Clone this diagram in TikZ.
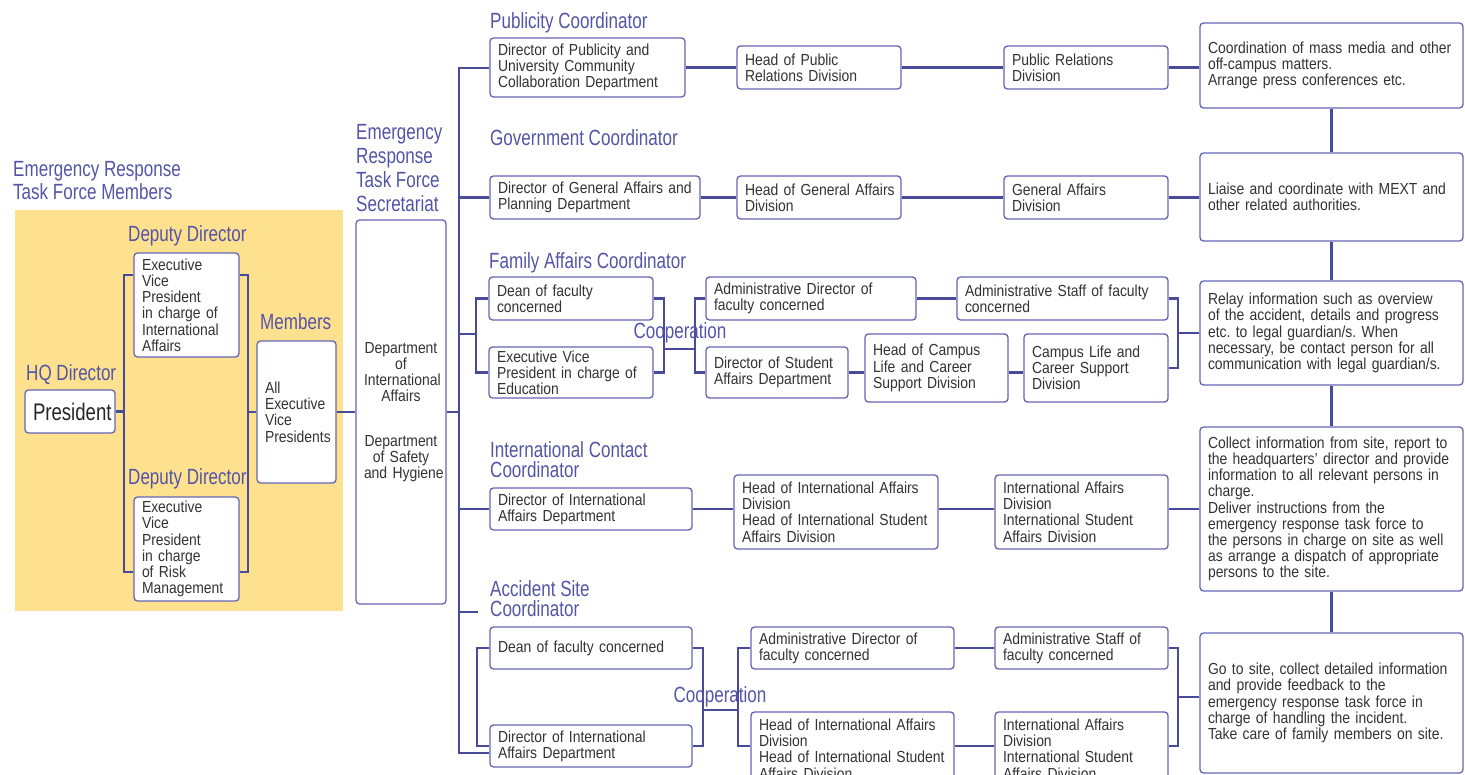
\documentclass[tikz,border=0pt]{standalone}
\usepackage{fontspec}
\newfontfamily\bodyfam{Liberation Sans}[FakeStretch=0.87]
\newfontfamily\ttlfam{Liberation Sans}[FakeStretch=0.775]
\newcommand\myBody{\bodyfam\fontsize{16}{16.2}\selectfont\frenchspacing\hyphenpenalty=10000 }
\newcommand\myTtl{\ttlfam\fontsize{22}{23.5}\selectfont}
\definecolor{linec}{HTML}{4A4A9A}
\definecolor{boxc}{HTML}{6464B4}
\definecolor{ttlc}{HTML}{5454A8}
\definecolor{txtc}{HTML}{333333}
\definecolor{yelc}{HTML}{FDE18E}
\newcommand\bx[7][]{%
  \pgfmathsetmacro\bxw{#5-#3}%
  \pgfmathsetmacro\bxh{#6-#4}%
  \pgfmathsetmacro\bxt{#5-#3-16}%
  \node[box, minimum width=\bxw pt, minimum height=\bxh pt, text width=\bxt pt, #1] (#2) at ({(#3+#5)/2},{(#4+#6)/2}) {#7};}
\begin{document}
\begin{tikzpicture}[x=1pt,y=-1pt,
  conn/.style={draw=linec, line width=2.3pt},
  box/.style={draw=boxc, line width=1.3pt, rounded corners=3.5pt, fill=white, text=txtc, align=left, inner xsep=8pt, inner ysep=1pt, font=\myBody},
  ttl/.style={text=ttlc, font=\myTtl, inner sep=0pt, anchor=base west, align=left}]
\useasboundingbox (0,0) rectangle (1465,775);
\clip (0,0) rectangle (1465,775);
\fill[yelc] (15,210) rectangle (343,611);

% left group
\bx[font={\ttlfam\fontsize{24}{26}\selectfont}, align=center, text=black!85]{pres}{25}{390}{115}{433}{President}
\bx{evpi}{134}{253}{239}{357}{Executive\\Vice\\President\\in charge of\\International\\Affairs}
\bx{evpr}{134}{497}{239}{601}{Executive\\Vice\\President\\in charge\\of Risk\\Management}
\bx{mem}{257}{341}{336}{483}{All\\Executive\\Vice\\Presidents}
\bx[align=center]{sec}{356}{220}{446}{604}{Department\\of\\International\\Affairs\\[28pt]Department\\of~Safety\\and~Hygiene}

% row 1
\bx{a1}{490}{38}{685}{97}{Director of Publicity and\\University Community\\Collaboration Department}
\bx{b1}{737}{46}{901}{89}{Head of Public\\Relations Division}
\bx{c1}{1004}{46}{1168}{89}{Public Relations\\Division}
\bx{d1}{1200}{23}{1463}{108}{Coordination of mass media and other\\off-campus matters.\\Arrange press conferences etc.}
% row 2
\bx{a2}{490}{176}{700}{219}{Director of General Affairs and\\Planning Department}
\bx{b2}{737}{176}{901}{219}{Head~of~General~Affairs\\Division}
\bx{c2}{1004}{176}{1168}{219}{General Affairs\\Division}
\bx{d2}{1200}{153}{1463}{241}{Liaise and coordinate with MEXT and\\other related authorities.}
% row 3
\bx{a3a}{489}{277}{653}{320}{Dean of faculty\\concerned}
\bx{a3b}{489}{347}{653}{398}{Executive Vice\\President in charge of\\Education}
\bx{b3a}{706}{277}{916}{320}{Administrative Director of\\faculty concerned}
\bx{c3a}{957}{277}{1168}{320}{Administrative Staff of faculty\\concerned}
\bx{b3b}{706}{347}{848}{398}{Director of Student\\Affairs Department}
\bx{b3c}{865}{334}{1008}{402}{Head of Campus\\Life and Career\\Support Division}
\bx{c3b}{1024}{334}{1168}{402}{Campus Life and\\Career Support\\Division}
\bx{d3}{1200}{281}{1463}{385}{Relay information such as overview\\of the accident, details and progress\\etc. to legal guardian/s. When\\necessary, be contact person for all\\communication with legal guardian/s.}
% row 4
\bx{a4}{490}{488}{692}{530}{Director of International\\Affairs Department}
\bx{b4}{734}{475}{938}{549}{Head of International Affairs\\Division\\Head~of~International~Student\\Affairs Division}
\bx{c4}{995}{475}{1168}{549}{International Affairs\\Division\\International Student\\Affairs Division}
\bx{d4}{1200}{427}{1463}{591}{Collect information from site, report to\\the headquarters’ director and provide\\information to all relevant persons in\\charge.\\Deliver instructions from the\\emergency response task force to\\the persons in charge on site as well\\as arrange a dispatch of appropriate\\persons to the site.}
% row 5
\bx{a5a}{490}{627}{692}{669}{Dean of faculty concerned}
\bx{a5b}{490}{725}{692}{767}{Director of International\\Affairs Department}
\bx{b5a}{751}{627}{954}{669}{Administrative Director of\\faculty concerned}
\bx{b5b}{751}{712}{954}{786}{Head of International Affairs\\Division\\Head~of~International~Student\\Affairs Division}
\bx{c5a}{995}{627}{1168}{669}{Administrative Staff of\\faculty concerned}
\bx{c5b}{995}{712}{1168}{786}{International Affairs\\Division\\International Student\\Affairs Division}
\bx{d5}{1200}{633}{1463}{773}{Go to site, collect detailed information\\and provide feedback to the\\emergency response task force in\\charge of handling the incident.\\Take care of family members on site.}

% connectors left
\coordinate (jl1) at (124,275); \coordinate (jl2) at (124,572);
\coordinate (jr1) at (248,275); \coordinate (jr2) at (248,572);
\draw[conn] (evpi.west|-jl1) -- (jl1) -- (jl2) -- (evpr.west|-jl2);
\draw[conn] (pres.east) -- (pres.east-|jl1);
\draw[conn] (evpi.east|-jr1) -- (jr1) -- (jr2) -- (evpr.east|-jr2);
\draw[conn] (mem.west) -- (mem.west-|jr1);
\draw[conn] (mem.east) -- (sec.west);
% main bus
\coordinate (m1) at (459,68); \coordinate (m2) at (459,753);
\draw[conn] (a1.west|-m1) -- (m1) -- (m2) -- (a5b.west|-m2);
\draw[conn] (sec.east) -- (sec.east-|m1);
% row 1
\draw[conn] (a1.east) -- (b1.west|-a1.east) (b1.east|-a1.east) -- (c1.west|-a1.east) (c1.east|-a1.east) -- (d1.west|-a1.east);
% row 2
\draw[conn] (m1|-a2.west) -- (a2.west) (a2.east) -- (b2.west|-a2.east) (b2.east|-a2.east) -- (c2.west|-a2.east) (c2.east|-a2.east) -- (d2.west|-a2.east);
% row 3
\coordinate (l3) at (476,334);
\draw[conn] (m1|-l3) -- (l3);
\draw[conn] (a3a.west) -- (a3a.west-|l3) -- (a3b.west-|l3) -- (a3b.west);
\coordinate (r3a) at (664,349); \coordinate (r3b) at (695,349);
\draw[conn] (a3a.east) -- (a3a.east-|r3a) -- (a3b.east-|r3a) -- (a3b.east);
\draw[conn] (r3a) -- (r3b);
\draw[conn] (b3a.west) -- (b3a.west-|r3b) -- (b3b.west-|r3b) -- (b3b.west);
\draw[conn] (b3a.east) -- (c3a.west|-b3a.east);
\draw[conn] (b3b.east) -- (b3c.west|-b3b.east) (b3c.east|-b3b.east) -- (c3b.west|-b3b.east);
\coordinate (q3) at (1178,333);
\draw[conn] (c3a.east) -- (c3a.east-|q3) -- (c3b.east-|q3) -- (c3b.east);
\draw[conn] (q3) -- (d3.west|-q3);
% row 4
\draw[conn] (m1|-a4.west) -- (a4.west) (a4.east) -- (b4.west|-a4.east) (b4.east|-a4.east) -- (c4.west|-a4.east) (c4.east|-a4.east) -- (d4.west|-a4.east);
% row 5
\coordinate (s5) at (478,612);
\draw[conn] (m1|-s5) -- (s5);
\coordinate (l5) at (477,700);
\draw[conn] (a5a.west) -- (a5a.west-|l5) -- (a5b.west-|l5) -- (a5b.west);
\coordinate (r5a) at (703,710); \coordinate (r5b) at (738,710); \coordinate (r5c) at (738,746);
\draw[conn] (a5a.east) -- (a5a.east-|r5a) -- (a5b.east-|r5a) -- (a5b.east);
\draw[conn] (r5a) -- (r5b);
\draw[conn] (b5a.west) -- (b5a.west-|r5b) -- (r5c) -- (b5b.west|-r5c);
\draw[conn] (b5a.east) -- (c5a.west|-b5a.east);
\draw[conn] (b5b.east|-r5c) -- (c5b.west|-r5c);
\coordinate (q5) at (1178,697); \coordinate (q5b) at (1178,746);
\draw[conn] (c5a.east) -- (c5a.east-|q5) -- (q5b) -- (c5b.east|-q5b);
\draw[conn] (q5) -- (d5.west|-q5);
% right column links
\draw[conn] (d1.south) -- (d2.north);
\draw[conn] (d2.south) -- (d3.north);
\draw[conn] (d3.south) -- (d4.north);
\draw[conn] (d4.south) -- (d5.north);

% titles
\node[ttl, font={\ttlfam\fontsize{22}{23}\selectfont}] (tErm) at (13,200) {Emergency Response\\Task Force Members};
\node[ttl] (tDep1) at (128,242) {Deputy Director};
\node[ttl] (tHQ) at (26,381) {HQ Director};
\node[ttl] (tDep2) at (128,485) {Deputy Director};
\node[ttl] (tMemb) at (260,330) {Members};
\node[ttl, font={\ttlfam\fontsize{22}{24}\selectfont}] (tSec) at (356,212) {Emergency\\Response\\Task Force\\Secretariat};
\node[ttl] (tPub) at (490,29) {Publicity Coordinator};
\node[ttl] (tGov) at (490,146) {Government Coordinator};
\node[ttl] (tFam) at (489,269) {Family Affairs Coordinator};
\node[ttl, font={\ttlfam\fontsize{22}{20}\selectfont}] (tInt) at (490,477) {International Contact\\Coordinator};
\node[ttl, font={\ttlfam\fontsize{22}{20}\selectfont}] (tAcc) at (490,616) {Accident Site\\Coordinator};
\node[ttl, anchor=base] (coop1) at (680,339) {Cooperation};
\node[ttl, anchor=base] (coop2) at (720,702) {Cooperation};
\end{tikzpicture}
\end{document}
